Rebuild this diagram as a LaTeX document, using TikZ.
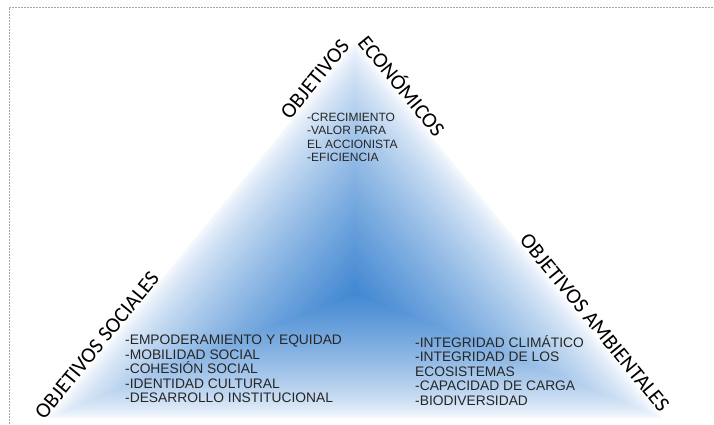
\documentclass[tikz,border=0pt]{standalone}
\usepackage{fontspec}
\setmainfont{Liberation Sans}
\newfontfamily\labelfont{Carlito}
\usepackage{tikz}
\usetikzlibrary{calc}
\definecolor{coreblue}{RGB}{66,136,210}
\definecolor{rimblue}{RGB}{244,248,253}
\definecolor{listgray}{RGB}{38,38,38}
\tikzset{
side label/.style={ % Titles along the sides of the triangle
sloped, above, inner sep=1pt,
font=\labelfont\fontsize{21.5}{21.5}\selectfont},
goal list/.style={ % Lists of goals inside the triangle
anchor=north west, inner sep=0pt, align=left,
text=listgray},
frame line/.style={ % Dashed frame round the picture
draw=gray!70, dash pattern=on 2pt off 1pt, line width=0.6pt}}

\begin{document}
\begin{tikzpicture}[x=1pt, y=-1pt]
\useasboundingbox (0,0) rectangle (714,424);
\draw[frame line] (9,424) -- (9,7) -- (714,7);
\coordinate (top) at (355,43);
\coordinate (sw) at (48,418);
\coordinate (se) at (662,418);
\coordinate (mid) at (355,293);
% shaded triangle, from the rim to the middle
\foreach \i in {0,...,59} {
  \pgfmathsetmacro{\s}{1-\i/60}
  \pgfmathtruncatemacro{\p}{100*(\i/59)^0.75}
  \fill[coreblue!\p!rimblue] ($(mid)!\s!(top)$) -- ($(mid)!\s!(se)$) -- ($(mid)!\s!(sw)$) -- cycle;
}
\path (sw) -- (top) node[side label, pos=0.18] (socLbl) {OBJETIVOS SOCIALES}
  node[side label, pos=0.89] (ecoLblA) {OBJETIVOS};
\path (top) -- (se) node[side label, pos=0.13] (ecoLblB) {ECONÓMICOS}
  node[side label, pos=0.76] (envLbl) {OBJETIVOS AMBIENTALES};
\node[goal list, font=\fontsize{12}{13.3}\selectfont] (ecoList) at (307,113)
  {-CRECIMIENTO\\-VALOR PARA\\EL ACCIONISTA\\-EFICIENCIA};
\node[goal list, font=\fontsize{13.8}{14.5}\selectfont] (socList) at (125,335)
  {-EMPODERAMIENTO Y EQUIDAD\\-MOBILIDAD SOCIAL\\-COHESIÓN SOCIAL\\-IDENTIDAD CULTURAL\\-DESARROLLO INSTITUCIONAL};
\node[goal list, font=\fontsize{13.8}{14.5}\selectfont] (envList) at (415,335)
  {-INTEGRIDAD CLIMÁTICO\\-INTEGRIDAD DE LOS\\ECOSISTEMAS\\-CAPACIDAD DE CARGA\\-BIODIVERSIDAD};
\end{tikzpicture}
\end{document}
